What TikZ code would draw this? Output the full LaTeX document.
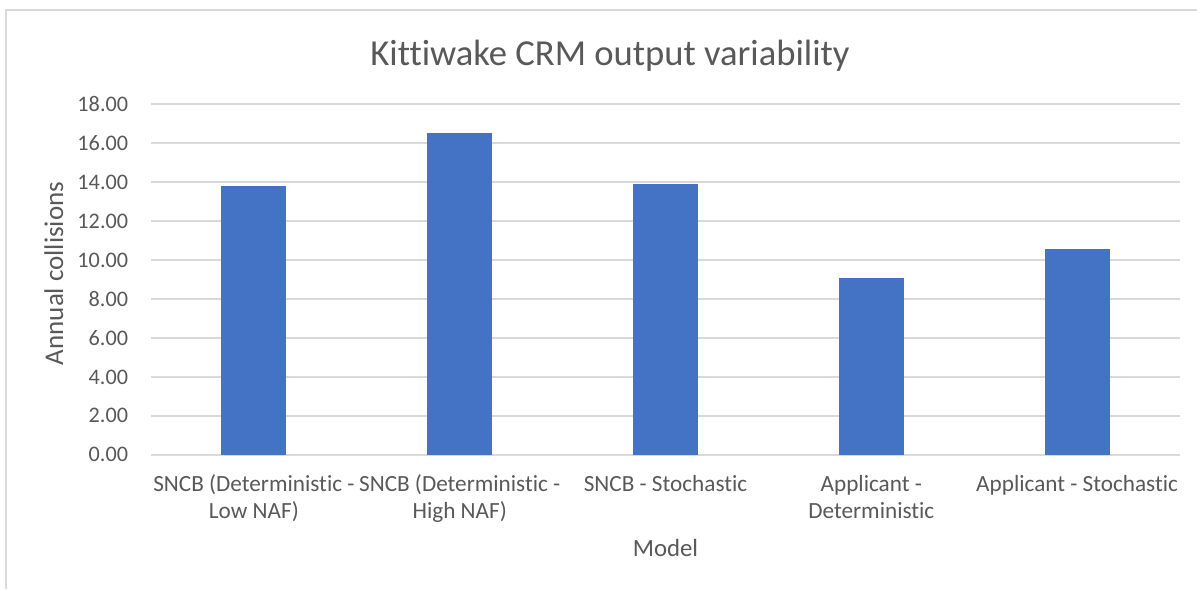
\documentclass[tikz,border=0pt]{standalone}
\usepackage{fontspec}
\setmainfont{Carlito}[Ligatures={NoCommon}]
\definecolor{axisgray}{HTML}{595959}
\definecolor{gridgray}{HTML}{D9D9D9}
\definecolor{barblue}{HTML}{4472C4}
\tikzset{
  gridline/.style={draw=gridgray, line width=1pt},
  framebox/.style={draw=gridgray, line width=0.75pt},
  bar/.style={fill=barblue},
  ticklabel/.style={text=axisgray, font=\fontsize{11.1}{13.3}\selectfont, anchor=east, inner sep=0pt},
  catlabel/.style={text=axisgray, font=\fontsize{11.6}{13.3}\selectfont, align=center, anchor=base, inner sep=0pt},
  charttitle/.style={text=axisgray, font=\fontsize{18.3}{22}\selectfont, anchor=base, inner sep=0pt},
}
\begin{document}
\begin{tikzpicture}[x=0.5pt, y=-0.5pt]
\useasboundingbox (0,0) rectangle (1197,589);
\fill[white] (0,0) rectangle (1197,589);

% chart frame (left and top edges)
\coordinate (frameBL) at (6,589);
\coordinate (frameTL) at (6,10);
\coordinate (frameTR) at (1197,10);
\draw[framebox] (frameBL) -- (frameTL) -- (frameTR);

% horizontal gridlines with value labels
\foreach \v/\txt in {0/0.00, 2/2.00, 4/4.00, 6/6.00, 8/8.00, 10/10.00, 12/12.00, 14/14.00, 16/16.00, 18/18.00} {
  \coordinate (gl\v) at (151, {454.8-19.47*\v});
  \coordinate (gr\v) at (1180, {454.8-19.47*\v});
  \draw[gridline] (gl\v) -- (gr\v);
  \node[ticklabel] (tick\v) at (128.5, {454.8-19.47*\v}) {\txt};
}

% bars
\foreach \c/\val in {253.9/13.81, 459.7/16.52, 665.5/13.91, 871.3/9.06, 1077.1/10.57} {
  \fill[bar] ({\c-32.5}, 454.8) rectangle ({\c+32.5}, {454.8-19.47*\val});
}

% category labels (base anchor sits on the last line)
\node[catlabel] (cat1) at (253.9, 518.3) {SNCB (Deterministic -\\Low NAF)};
\node[catlabel] (cat2) at (459.7, 518.3) {SNCB (Deterministic -\\High NAF)};
\node[catlabel] (cat3) at (665.5, 491.7) {SNCB - Stochastic};
\node[catlabel] (cat4) at (871.3, 518.3) {Applicant -\\Deterministic};
\node[catlabel] (cat5) at (1077.1, 491.7) {Applicant - Stochastic};

% axis titles
\node[text=axisgray, font=\fontsize{12.4}{15}\selectfont, inner sep=0pt, anchor=base] (xtitle) at (665.5, 556.7) {Model};
\node[text=axisgray, font=\fontsize{13.5}{16}\selectfont, inner sep=0pt, anchor=base, rotate=90] (ytitle) at (63, 273.5) {Annual collisions};

% chart title
\node[charttitle] (title) at (610, 65) {Kittiwake CRM output variability};
\end{tikzpicture}
\end{document}
